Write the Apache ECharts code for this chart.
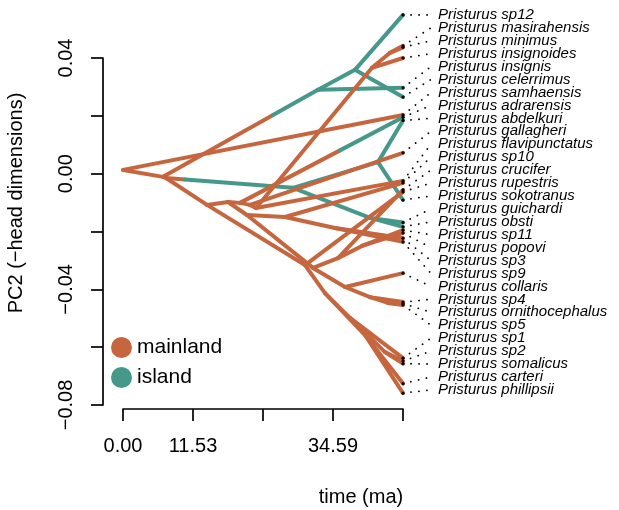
<!DOCTYPE html>
<html><head><meta charset="utf-8">
<script src="https://cdn.jsdelivr.net/npm/echarts@6/dist/echarts.min.js"></script>
<style>html,body{margin:0;padding:0;background:#fff}#c{width:619px;height:510px}</style>
</head><body><div id="c"></div>
<script>
// ---- data ----
const treeHeight = 46.12;              // age of the tree (ma); all tips end here
const xTickStep = 11.53;
const yTickStep = 0.02;

const tipNames = ['sp12','masirahensis','minimus','insignoides','insignis','celerrimus','samhaensis',
  'adrarensis','abdelkuri','gallagheri','flavipunctatus','sp10','crucifer','rupestris','sokotranus',
  'guichardi','obsti','sp11','popovi','sp3','sp9','collaris','sp4','ornithocephalus','sp5','sp1','sp2',
  'somalicus','carteri','phillipsii'];
const tipValues = [0.0549, 0.0442, 0.0437, 0.0400, 0.0297, 0.0265, 0.0203,
  0.0195, 0.0184, 0.0072, -0.0025, -0.0032, -0.0056, -0.0063, -0.0091,
  -0.0169, -0.0184, -0.0195, -0.0205, -0.0223, -0.0236, -0.0344, -0.0444, -0.0449, -0.0454, -0.0638, -0.0648,
  -0.0657, -0.0726, -0.0759];

const nodeIds    = ['R','N1','N1b','N2','N6','N3','N4','N5','N8','N9','N9b','N9c','N10','N7','N7b','N10b','N11','N11b','M0','M1','M1b','M2','M3','M4','L0','B0','B1','B3','B2'];
const nodeTimes  = [0, 6.59, 7.08, 32.12, 38.21, 28.00, 42.00, 40.69, 13.84, 17.30, 19.27, 20.92, 21.91, 41.01, 43.98, 20.42, 26.68, 34.92, 31.30, 35.41, 39.37, 36.57, 40.69, 43.65, 29.98, 33.27, 37.39, 43.15, 39.86];
const nodeValues = [0.0013, -0.0011, -0.0015, 0.0290, 0.0359, -0.0049, 0.0040, -0.0153, -0.0108, -0.0098, -0.0101, -0.0108, -0.0119, 0.0366, 0.0418, -0.0143, -0.0150, -0.0188, -0.0326, -0.0292, -0.0250, -0.0392, -0.0427, -0.0447, -0.0316, -0.0413, -0.0499, -0.0617, -0.0558];

// [parent, child, state at start, (time of state change, state after)]
const edges = [
  ['R','samhaensis','mainland'],
  ['R','N1','mainland'],
  ['N1','N2','mainland',24.71,'island'],
  ['N2','insignis','island'],
  ['N2','N6','island'],
  ['N6','sp12','island'],
  ['N6','celerrimus','island'],
  ['N1','N1b','mainland'],
  ['N1b','N3','mainland',10.21,'island'],
  ['N3','N4','island'],
  ['N4','abdelkuri','island'],
  ['N4','sokotranus','island'],
  ['N3','N5','island'],
  ['N5','guichardi','island'],
  ['N5','obsti','island'],
  ['N1b','N8','mainland'],
  ['N8','N9','mainland'],
  ['N9','N9b','mainland'],
  ['N9b','adrarensis','mainland',35.74,'island'],
  ['N9b','N9c','mainland'],
  ['N9c','gallagheri','mainland'],
  ['N9c','N10','mainland'],
  ['N10','N7','mainland'],
  ['N7','insignoides','mainland'],
  ['N7','N7b','mainland'],
  ['N7b','masirahensis','mainland'],
  ['N7b','minimus','mainland'],
  ['N10','flavipunctatus','mainland'],
  ['N9','N10b','mainland'],
  ['N10b','N11','mainland'],
  ['N11','sp10','mainland'],
  ['N11','N11b','mainland'],
  ['N11b','sp3','mainland'],
  ['N11b','sp9','mainland'],
  ['N10b','M0','mainland'],
  ['M0','M1','mainland'],
  ['M1','crucifer','mainland'],
  ['M1','M1b','mainland'],
  ['M1b','sp11','mainland'],
  ['M1b','popovi','mainland'],
  ['M0','M2','mainland'],
  ['M2','collaris','mainland'],
  ['M2','M3','mainland'],
  ['M3','sp4','mainland'],
  ['M3','M4','mainland'],
  ['M4','ornithocephalus','mainland'],
  ['M4','sp5','mainland'],
  ['N8','L0','mainland'],
  ['L0','rupestris','mainland'],
  ['L0','B0','mainland'],
  ['B0','B1','mainland'],
  ['B1','sp1','mainland'],
  ['B1','B3','mainland'],
  ['B3','sp2','mainland'],
  ['B3','somalicus','mainland'],
  ['B0','B2','mainland'],
  ['B2','carteri','mainland'],
  ['B2','phillipsii','mainland']
];
const regimes = ['mainland','island'];

// ---- styles ----
const colours = { mainland: '#C6663F', island: '#45988A' };
const FONT = '"Liberation Sans", Arial, Helvetica, sans-serif';
const labelStep = 12.93;

function place(id) {
  const ti = tipNames.indexOf(id);
  if (ti >= 0) return [treeHeight, tipValues[ti]];
  const ni = nodeIds.indexOf(id);
  return [nodeTimes[ni], nodeValues[ni]];
}
const edgeData = edges.map(e => { const a = place(e[0]), b = place(e[1]); return [a[0], a[1], b[0], b[1]]; });
const tipData = tipValues.map((v, i) => [treeHeight, v, i]);

function seg(a, b, state) {
  return { type: 'line', shape: { x1: a[0], y1: a[1], x2: b[0], y2: b[1] },
    style: { stroke: colours[state], lineWidth: 4, lineCap: 'round' } };
}

const chart = echarts.init(document.getElementById('c'), null, { renderer: 'canvas' });
chart.setOption({
  animation: false,
  backgroundColor: '#fff',
  grid: { left: 123, top: 58, width: 280, height: 347, containLabel: false },
  xAxis: {
    type: 'value', min: 0, max: treeHeight, interval: xTickStep, offset: 4,
    axisLine: { show: true, onZero: false, lineStyle: { color: '#000', width: 1.7 } },
    axisTick: { show: true, length: 12, lineStyle: { color: '#000', width: 1.7 } },
    splitLine: { show: false },
    axisLabel: { margin: 27, fontSize: 20, fontFamily: FONT, color: '#000',
      showMinLabel: true, showMaxLabel: true,
      formatter: v => { const k = Math.round(v / xTickStep); return (k === 2 || k === 4) ? '' : (k * xTickStep).toFixed(2); } }
  },
  yAxis: {
    type: 'value', min: -0.08, max: 0.04, interval: yTickStep, offset: 20,
    axisLine: { show: true, onZero: false, lineStyle: { color: '#000', width: 1.7 } },
    axisTick: { show: true, length: 12, lineStyle: { color: '#000', width: 1.7 } },
    splitLine: { show: false },
    axisLabel: { rotate: 90, margin: 27, fontSize: 20, fontFamily: FONT, color: '#000',
      showMinLabel: true, showMaxLabel: true,
      formatter: v => { const k = Math.round(v * 100); if (k % 4 !== 0) return ''; return (k < 0 ? '\u2212' : '') + (Math.abs(k) / 100).toFixed(2); } }
  },
  legend: {
    data: regimes, orient: 'vertical', left: 111, top: 337, padding: 0, icon: 'circle',
    itemWidth: 21, itemHeight: 21, itemGap: 9, selectedMode: false,
    textStyle: { fontSize: 21, fontFamily: FONT, color: '#000' }
  },
  graphic: [
    { type: 'text', x: 361, y: 497, style: { text: 'time (ma)', font: '20px ' + FONT, fill: '#000', align: 'center', verticalAlign: 'middle' } },
    { type: 'text', x: 16, y: 203, rotation: Math.PI / 2, style: { text: 'PC2 (\u2212head dimensions)', font: '20px ' + FONT, fill: '#000', align: 'center', verticalAlign: 'middle' } }
  ],
  series: [
    { name: 'mainland', type: 'scatter', data: [], itemStyle: { color: colours.mainland, opacity: 1 } },
    { name: 'island', type: 'scatter', data: [], itemStyle: { color: colours.island, opacity: 1 } },
    {
      name: 'branches', type: 'custom', clip: false, silent: true, data: edgeData,
      renderItem: (params, api) => {
        const e = edges[params.dataIndex];
        const t0 = api.value(0), t1 = api.value(2);
        const p0 = api.coord([t0, api.value(1)]);
        const p1 = api.coord([t1, api.value(3)]);
        if (e.length < 5) return seg(p0, p1, e[2]);
        const f = (e[3] - t0) / (t1 - t0);
        const pm = [p0[0] + f * (p1[0] - p0[0]), p0[1] + f * (p1[1] - p0[1])];
        return { type: 'group', children: [seg(p0, pm, e[2]), seg(pm, p1, e[4])] };
      }
    },
    {
      name: 'tips', type: 'custom', clip: false, silent: true, data: tipData,
      renderItem: (params, api) => {
        const i = api.value(2);
        const p = api.coord([api.value(0), api.value(1)]);
        const top = api.coord([treeHeight, tipValues[0]])[1];
        const ly = top + i * labelStep;
        return { type: 'group', children: [
          { type: 'line', shape: { x1: p[0], y1: p[1], x2: p[0] + 28, y2: ly },
            style: { stroke: '#000', lineWidth: 1.8, lineDash: [0.1, 7.9], lineCap: 'round' } },
          { type: 'circle', shape: { cx: p[0], cy: p[1], r: 1.6 }, style: { fill: '#000' } },
          { type: 'text', x: p[0] + 35, y: ly,
            style: { text: 'Pristurus ' + tipNames[i], fontSize: 15, fontStyle: 'italic', fontFamily: FONT,
              fill: '#000', align: 'left', verticalAlign: 'middle' } }
        ] };
      }
    }
  ]
});
</script></body></html>
